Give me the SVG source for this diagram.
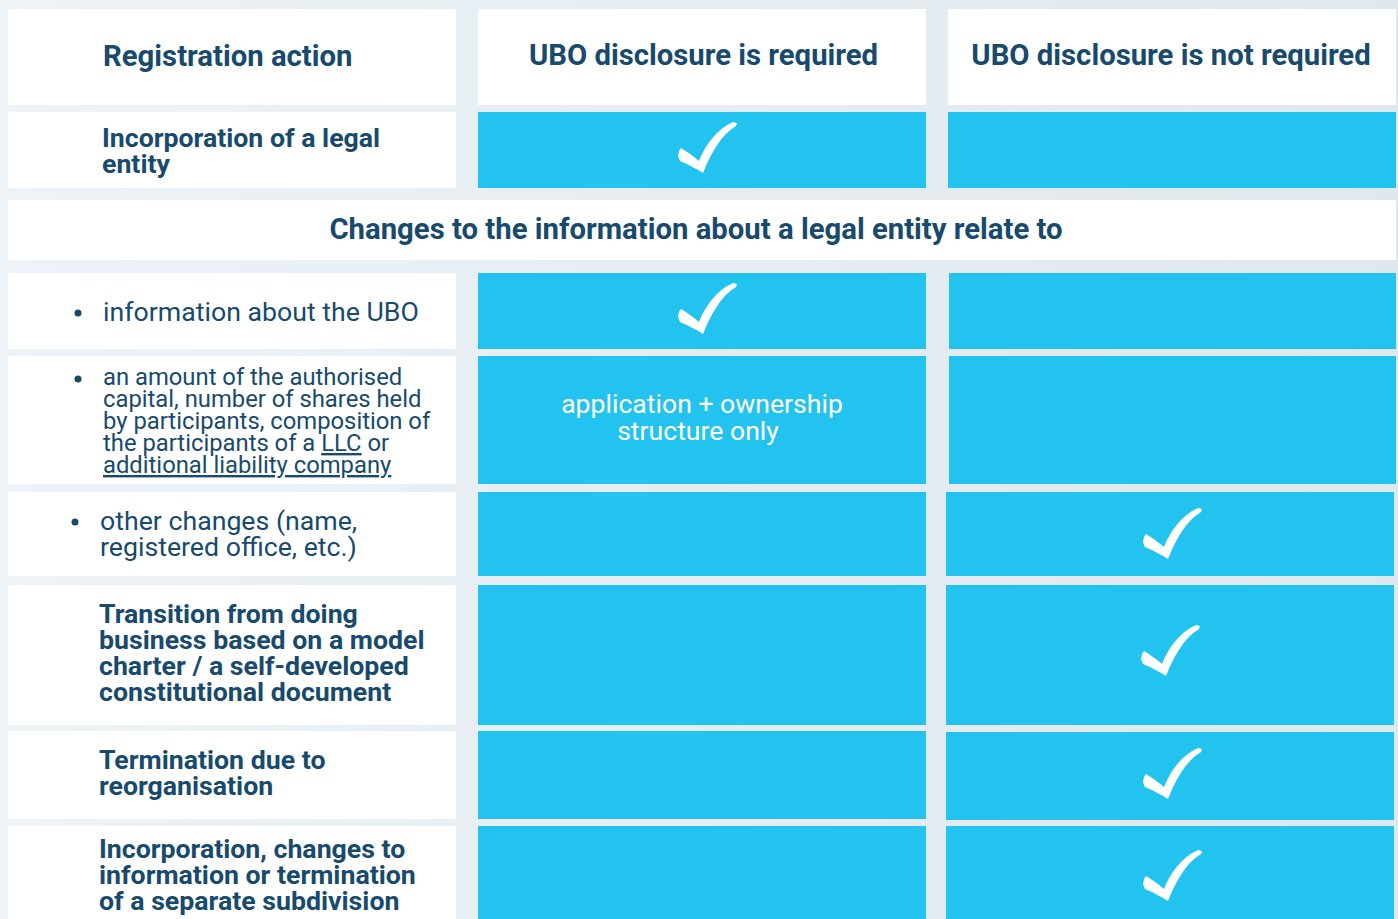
<svg xmlns="http://www.w3.org/2000/svg" width="1398" height="919" viewBox="0 0 1398 919">
<defs>
<linearGradient id="bg" x1="0" y1="0" x2="1" y2="0">
<stop offset="0" stop-color="#edf3f7"/>
<stop offset="1" stop-color="#dfe8ee"/>
</linearGradient>
<path id="chk" d="M0,0 C-6,-4 -16,-9 -23,-12 L-25,-17 L-24,-22 L-22,-25 C-15,-21 -9,-16 -4,-12 C2,-28 14,-44 30,-51 L34,-50 L33,-47 C18,-38 8,-20 0,0 Z"/>
<style>
.w{fill:#ffffff}
.b{fill:#22c3ee}
.t{font-family:Roboto,"Liberation Sans",sans-serif;fill:#174a6d}
.h{font-size:29.3px;font-weight:700}
.bd{font-size:26.7px;font-weight:700}
.r{font-size:26.7px;font-weight:400}
.s{font-size:23.8px;font-weight:400}
.wt{font-family:Roboto,"Liberation Sans",sans-serif;fill:#ffffff;font-size:26.6px}
.c{fill:#ffffff}
.dot{fill:#174a6d}
</style>
</defs>
<rect x="0" y="0" width="1398" height="919" fill="url(#bg)"/>

<g id="header">
<rect class="w" x="8" y="9" width="448" height="96"/>
<text class="t h" x="103" y="66">Registration action</text>
<rect class="w" x="478" y="9" width="448" height="96"/>
<text class="t h" x="703.5" y="65" text-anchor="middle">UBO disclosure is required</text>
<rect class="w" x="948" y="9" width="448" height="96"/>
<text class="t h" x="1171" y="65" text-anchor="middle">UBO disclosure is not required</text>
</g>

<g id="row-incorporation">
<rect class="w" x="8" y="112" width="448" height="76"/>
<text class="t bd" x="102" y="147">Incorporation of a legal</text>
<text class="t bd" x="102" y="173">entity</text>
<rect class="b" x="478" y="112" width="448" height="76"/>
<use href="#chk" class="c" x="703" y="173"/>
<rect class="b" x="948" y="112" width="448" height="76"/>
</g>

<g id="changes-header">
<rect class="w" x="8" y="200" width="1388" height="60"/>
<text class="t h" x="696" y="239" text-anchor="middle">Changes to the information about a legal entity relate to</text>
</g>

<g id="row-ubo-info">
<rect class="w" x="8" y="273" width="448" height="76"/>
<circle class="dot" cx="78" cy="313" r="3.5"/>
<text class="t r" x="103" y="321">information about the UBO</text>
<rect class="b" x="478" y="273" width="448" height="76"/>
<use href="#chk" class="c" x="703" y="334"/>
<rect class="b" x="949" y="273" width="447" height="76"/>
</g>

<g id="row-capital">
<rect class="w" x="8" y="356" width="448" height="128"/>
<circle class="dot" cx="78" cy="379" r="3.5"/>
<text class="t s" x="103" y="385">an amount of the authorised</text>
<text class="t s" x="103" y="407">capital, number of shares held</text>
<text class="t s" x="103" y="429">by participants, composition of</text>
<text class="t s" x="103" y="451">the participants of a <tspan text-decoration="underline">LLC</tspan> or</text>
<text class="t s" x="103" y="473" text-decoration="underline">additional liability company</text>
<rect class="b" x="478" y="356" width="448" height="128"/>
<text class="wt" x="702" y="413" text-anchor="middle">application + ownership</text>
<text class="wt" x="698" y="440" text-anchor="middle">structure only</text>
<rect class="b" x="949" y="356" width="447" height="128"/>
</g>

<g id="row-other">
<rect class="w" x="8" y="492" width="448" height="84"/>
<circle class="dot" cx="75" cy="522" r="3.5"/>
<text class="t r" x="100" y="530">other changes (name,</text>
<text class="t r" x="100" y="556">registered office, etc.)</text>
<rect class="b" x="478" y="492" width="448" height="84"/>
<rect class="b" x="946" y="492" width="448" height="84"/>
<use href="#chk" class="c" x="1168" y="559"/>
</g>

<g id="row-transition">
<rect class="w" x="8" y="585" width="448" height="140"/>
<text class="t bd" x="99" y="623">Transition from doing</text>
<text class="t bd" x="99" y="649">business based on a model</text>
<text class="t bd" x="99" y="675">charter / a self-developed</text>
<text class="t bd" x="99" y="701">constitutional document</text>
<rect class="b" x="478" y="585" width="448" height="140"/>
<rect class="b" x="946" y="585" width="448" height="140"/>
<use href="#chk" class="c" x="1166" y="676"/>
</g>

<g id="row-termination">
<rect class="w" x="8" y="731" width="448" height="88"/>
<text class="t bd" x="99" y="769">Termination due to</text>
<text class="t bd" x="99" y="795">reorganisation</text>
<rect class="b" x="478" y="731" width="448" height="88"/>
<rect class="b" x="946" y="732" width="448" height="88"/>
<use href="#chk" class="c" x="1168" y="799"/>
</g>

<g id="row-subdivision">
<rect class="w" x="8" y="826" width="448" height="93"/>
<text class="t bd" x="99" y="858">Incorporation, changes to</text>
<text class="t bd" x="99" y="884">information or termination</text>
<text class="t bd" x="99" y="910">of a separate subdivision</text>
<rect class="b" x="478" y="826" width="448" height="93"/>
<rect class="b" x="946" y="826" width="448" height="93"/>
<use href="#chk" class="c" x="1168" y="901"/>
</g>
</svg>
